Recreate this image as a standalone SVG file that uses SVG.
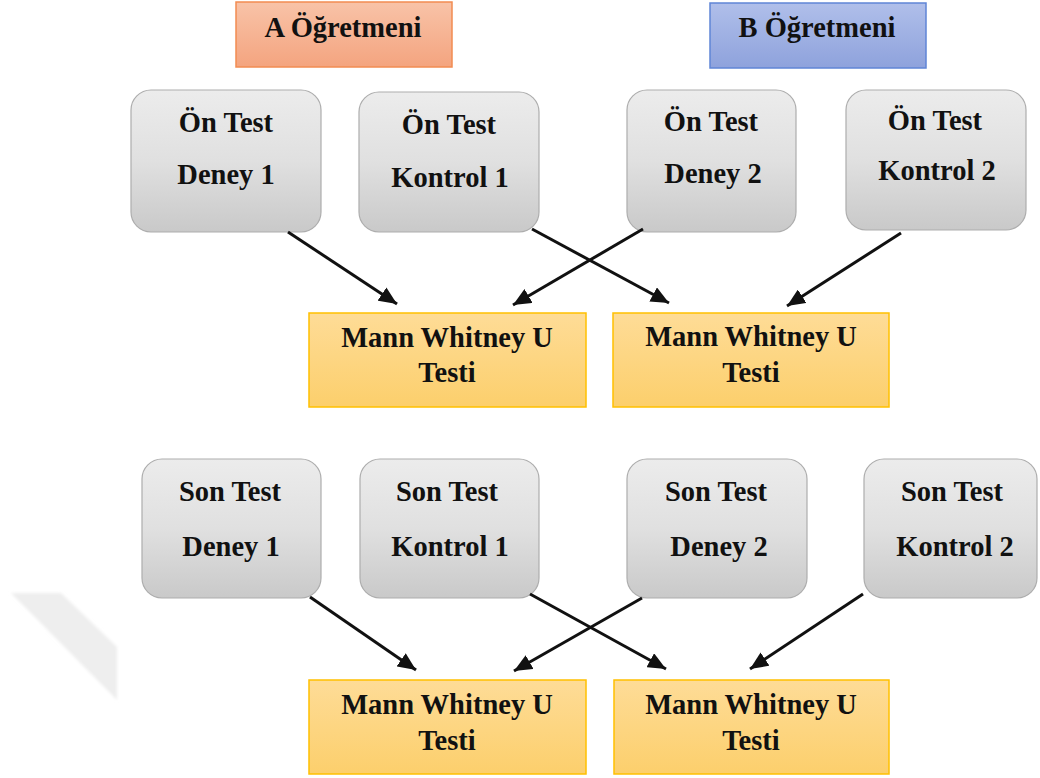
<svg xmlns="http://www.w3.org/2000/svg" width="1040" height="778" viewBox="0 0 1040 778">
  <defs>
    <linearGradient id="gGray" x1="0" y1="0" x2="0" y2="1">
      <stop offset="0" stop-color="#ececec"/>
      <stop offset="0.5" stop-color="#e0e0e0"/>
      <stop offset="1" stop-color="#c9c9c9"/>
    </linearGradient>
    <linearGradient id="gYellow" x1="0" y1="0" x2="0" y2="1">
      <stop offset="0" stop-color="#fedc97"/>
      <stop offset="1" stop-color="#fccf6c"/>
    </linearGradient>
    <linearGradient id="gSalmon" x1="0" y1="0" x2="0" y2="1">
      <stop offset="0" stop-color="#f8c3a8"/>
      <stop offset="1" stop-color="#f4a47f"/>
    </linearGradient>
    <linearGradient id="gBlue" x1="0" y1="0" x2="0" y2="1">
      <stop offset="0" stop-color="#b0bfea"/>
      <stop offset="1" stop-color="#8ea2dc"/>
    </linearGradient>
    <marker id="arrow" markerUnits="userSpaceOnUse" markerWidth="19" markerHeight="16" refX="18" refY="8" orient="auto">
      <path d="M0,0 L18,8 L0,16 z" fill="#111"/>
    </marker>
    <filter id="soft" x="-10%" y="-10%" width="120%" height="120%">
      <feGaussianBlur stdDeviation="1.5"/>
    </filter>
  </defs>
  <style>
    text { font-family: "Liberation Serif", "Times New Roman", serif; font-weight: bold; font-size: 28.5px; fill: #111; text-anchor: middle; }
    .test { fill: url(#gGray); stroke: #adadad; stroke-width: 1.2; }
    .mw { fill: url(#gYellow); stroke: #ffc000; stroke-width: 1.5; }
    .conn line { stroke: #111; stroke-width: 3; marker-end: url(#arrow); }
  </style>

  <!-- faint band in the lower left corner -->
  <polygon points="11,593 61,593 117,647 117,700" fill="#eeeeee" filter="url(#soft)"/>

  <!-- teacher headers -->
  <g id="teacherA">
    <rect x="236" y="2" width="216" height="65" fill="url(#gSalmon)" stroke="#f28c52" stroke-width="1.5"/>
    <text x="343" y="37">A Öğretmeni</text>
  </g>
  <g id="teacherB">
    <rect x="710" y="3" width="216" height="65" fill="url(#gBlue)" stroke="#5f85d6" stroke-width="1.5"/>
    <text x="817" y="37">B Öğretmeni</text>
  </g>

  <!-- pre-test groups -->
  <g id="onDeney1">
    <rect class="test" x="131" y="90" width="190" height="142" rx="20"/>
    <text x="226" y="132">Ön Test</text>
    <text x="226" y="184">Deney 1</text>
  </g>
  <g id="onKontrol1">
    <rect class="test" x="359" y="92" width="180" height="140" rx="20"/>
    <text x="449" y="134">Ön Test</text>
    <text x="450" y="187">Kontrol 1</text>
  </g>
  <g id="onDeney2">
    <rect class="test" x="627" y="90" width="169" height="142" rx="20"/>
    <text x="711" y="131">Ön Test</text>
    <text x="713" y="183">Deney 2</text>
  </g>
  <g id="onKontrol2">
    <rect class="test" x="846" y="90" width="180" height="140" rx="20"/>
    <text x="935" y="130">Ön Test</text>
    <text x="937" y="180">Kontrol 2</text>
  </g>

  <!-- pre-test comparisons -->
  <g id="onMW1">
    <rect class="mw" x="309" y="313" width="277" height="94"/>
    <text x="447" y="347">Mann Whitney U</text>
    <text x="447" y="382">Testi</text>
  </g>
  <g id="onMW2">
    <rect class="mw" x="613" y="313" width="276" height="94"/>
    <text x="751" y="346">Mann Whitney U</text>
    <text x="751" y="382">Testi</text>
  </g>

  <!-- post-test groups -->
  <g id="sonDeney1">
    <rect class="test" x="142" y="459" width="179" height="139" rx="20"/>
    <text x="230" y="501">Son Test</text>
    <text x="231" y="556">Deney 1</text>
  </g>
  <g id="sonKontrol1">
    <rect class="test" x="360" y="459" width="179" height="139" rx="20"/>
    <text x="447" y="501">Son Test</text>
    <text x="450" y="556">Kontrol 1</text>
  </g>
  <g id="sonDeney2">
    <rect class="test" x="627" y="459" width="180" height="139" rx="20"/>
    <text x="716" y="501">Son Test</text>
    <text x="719" y="556">Deney 2</text>
  </g>
  <g id="sonKontrol2">
    <rect class="test" x="864" y="459" width="173" height="139" rx="20"/>
    <text x="952" y="501">Son Test</text>
    <text x="955" y="556">Kontrol 2</text>
  </g>

  <!-- post-test comparisons -->
  <g id="sonMW1">
    <rect class="mw" x="309" y="680" width="277" height="94"/>
    <text x="447" y="714">Mann Whitney U</text>
    <text x="447" y="750">Testi</text>
  </g>
  <g id="sonMW2">
    <rect class="mw" x="614" y="680" width="275" height="94"/>
    <text x="751" y="714">Mann Whitney U</text>
    <text x="751" y="750">Testi</text>
  </g>

  <!-- connectors -->
  <g id="connectors" class="conn">
    <line x1="288" y1="232" x2="397" y2="304"/>
    <line x1="643" y1="229" x2="513" y2="305"/>
    <line x1="532" y1="229" x2="669" y2="303"/>
    <line x1="901" y1="233" x2="787" y2="306"/>
    <line x1="310" y1="597" x2="416" y2="670"/>
    <line x1="530" y1="594" x2="666" y2="669"/>
    <line x1="642" y1="598" x2="514" y2="671"/>
    <line x1="863" y1="594" x2="750" y2="669"/>
  </g>
</svg>
